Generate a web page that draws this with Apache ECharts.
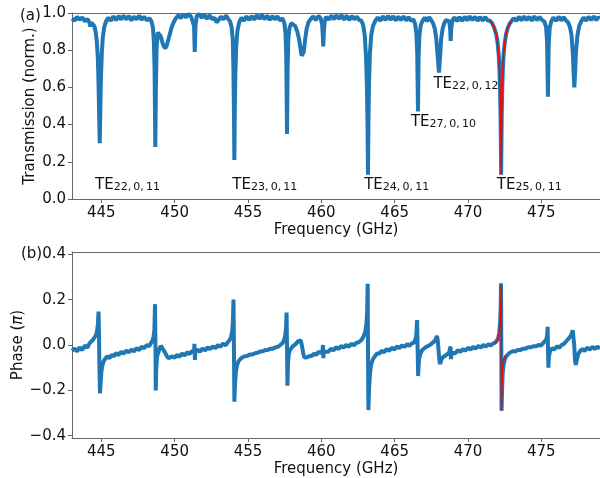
<!DOCTYPE html>
<html>
<head>
<meta charset="utf-8">
<script src="https://cdn.jsdelivr.net/npm/echarts@6/dist/echarts.min.js"></script>
<style>
html,body{margin:0;padding:0;background:#fff;}
#chart{width:600px;height:478px;}
</style>
</head>
<body>
<div id="chart"></div>
<script>
// ---- data ----
const freqTicks = [445, 450, 455, 460, 465, 470, 475];
const transTicks = [0, 0.2, 0.4, 0.6, 0.8, 1.0];
const phaseTicks = [-0.4, -0.2, 0, 0.2, 0.4];

// measured transmission [GHz, norm.]
const transmission = [[443.00,0.970],[443.18,0.958],[443.35,0.980],[443.52,0.964],[443.70,0.976],[443.88,0.955],[444.05,0.968],[444.18,0.950],[444.25,0.928],[444.32,0.948],[444.42,0.952],[444.52,0.930],[444.62,0.895],[444.70,0.840],[444.76,0.760],[444.81,0.620],[444.85,0.460],[444.89,0.300],[444.93,0.470],[444.97,0.640],[445.03,0.780],[445.10,0.870],[445.20,0.925],[445.32,0.955],[445.48,0.975],[445.65,0.958],[445.82,0.982],[446.00,0.962],[446.18,0.984],[446.35,0.965],[446.52,0.986],[446.70,0.966],[446.88,0.984],[447.05,0.960],[447.22,0.980],[447.40,0.966],[447.58,0.986],[447.75,0.964],[447.92,0.980],[448.10,0.960],[448.28,0.972],[448.42,0.955],[448.52,0.920],[448.58,0.850],[448.63,0.700],[448.68,0.280],[448.72,0.600],[448.77,0.820],[448.85,0.895],[448.95,0.905],[449.05,0.875],[449.15,0.845],[449.25,0.822],[449.36,0.810],[449.46,0.825],[449.56,0.855],[449.68,0.890],[449.80,0.925],[449.93,0.950],[450.08,0.972],[450.25,0.988],[450.42,0.972],[450.60,0.994],[450.78,0.976],[450.95,0.995],[451.12,0.980],[451.25,0.975],[451.32,0.930],[451.37,0.790],[451.42,0.930],[451.50,0.982],[451.68,0.994],[451.85,0.974],[452.02,0.990],[452.20,0.968],[452.38,0.988],[452.55,0.966],[452.72,0.975],[452.85,0.950],[452.92,0.945],[453.00,0.962],[453.15,0.980],[453.32,0.966],[453.50,0.986],[453.65,0.968],[453.78,0.955],[453.88,0.925],[453.96,0.860],[454.01,0.680],[454.04,0.480],[454.07,0.210],[454.10,0.480],[454.14,0.680],[454.20,0.820],[454.28,0.905],[454.40,0.950],[454.55,0.975],[454.72,0.958],[454.90,0.982],[455.08,0.962],[455.25,0.984],[455.42,0.964],[455.60,0.988],[455.78,0.968],[455.95,0.990],[456.12,0.966],[456.30,0.986],[456.48,0.962],[456.65,0.984],[456.82,0.966],[457.00,0.982],[457.18,0.960],[457.35,0.972],[457.48,0.945],[457.56,0.890],[457.61,0.760],[457.66,0.350],[457.70,0.700],[457.75,0.860],[457.83,0.920],[457.95,0.945],[458.08,0.945],[458.22,0.930],[458.36,0.900],[458.48,0.860],[458.58,0.810],[458.66,0.770],[458.72,0.760],[458.80,0.790],[458.90,0.860],[459.00,0.915],[459.12,0.950],[459.28,0.968],[459.45,0.982],[459.62,0.962],[459.80,0.984],[459.95,0.972],[460.05,0.940],[460.10,0.880],[460.13,0.820],[460.16,0.880],[460.22,0.950],[460.32,0.980],[460.50,0.964],[460.68,0.986],[460.85,0.966],[461.02,0.988],[461.20,0.968],[461.38,0.988],[461.55,0.964],[461.72,0.986],[461.90,0.962],[462.08,0.984],[462.25,0.966],[462.42,0.980],[462.58,0.962],[462.72,0.960],[462.85,0.935],[462.96,0.880],[463.05,0.760],[463.11,0.600],[463.15,0.400],[463.18,0.130],[463.21,0.400],[463.25,0.620],[463.31,0.780],[463.40,0.880],[463.52,0.930],[463.68,0.958],[463.85,0.976],[464.02,0.958],[464.20,0.982],[464.38,0.962],[464.55,0.984],[464.72,0.964],[464.90,0.982],[465.08,0.960],[465.25,0.980],[465.42,0.962],[465.60,0.982],[465.78,0.960],[465.95,0.978],[466.12,0.958],[466.28,0.965],[466.40,0.940],[466.48,0.890],[466.54,0.780],[466.59,0.470],[466.63,0.760],[466.69,0.880],[466.78,0.935],[466.90,0.958],[467.05,0.975],[467.20,0.956],[467.35,0.978],[467.50,0.960],[467.62,0.945],[467.74,0.915],[467.84,0.860],[467.93,0.770],[468.02,0.680],[468.09,0.760],[468.17,0.860],[468.27,0.915],[468.38,0.945],[468.50,0.962],[468.62,0.968],[468.72,0.955],[468.78,0.920],[468.82,0.850],[468.86,0.920],[468.94,0.962],[469.08,0.976],[469.25,0.956],[469.42,0.978],[469.60,0.958],[469.78,0.980],[469.95,0.960],[470.12,0.982],[470.30,0.962],[470.48,0.980],[470.65,0.958],[470.82,0.978],[471.00,0.960],[471.18,0.978],[471.35,0.960],[471.52,0.958],[471.65,0.944],[471.78,0.922],[471.92,0.888],[472.02,0.838],[472.10,0.768],[472.15,0.690],[472.19,0.580],[472.22,0.440],[472.24,0.300],[472.26,0.130],[472.28,0.300],[472.30,0.440],[472.33,0.580],[472.37,0.690],[472.42,0.768],[472.50,0.838],[472.60,0.888],[472.72,0.922],[472.85,0.944],[472.98,0.958],[473.12,0.972],[473.30,0.958],[473.48,0.980],[473.65,0.960],[473.82,0.982],[474.00,0.962],[474.18,0.980],[474.35,0.958],[474.52,0.982],[474.70,0.962],[474.88,0.978],[475.05,0.962],[475.20,0.955],[475.32,0.925],[475.39,0.850],[475.45,0.550],[475.50,0.830],[475.57,0.920],[475.68,0.955],[475.82,0.976],[476.00,0.958],[476.18,0.980],[476.35,0.960],[476.52,0.978],[476.68,0.960],[476.82,0.950],[476.95,0.925],[477.06,0.880],[477.15,0.780],[477.21,0.660],[477.25,0.600],[477.29,0.660],[477.36,0.790],[477.46,0.880],[477.58,0.930],[477.72,0.955],[477.88,0.976],[478.05,0.958],[478.22,0.980],[478.40,0.962],[478.58,0.982],[478.75,0.962],[478.90,0.978],[479.00,0.970]];

// fit of the TE25,0,11 resonance (transmission)
const transFit = [[471.45,0.958],[471.52,0.952],[471.65,0.944],[471.78,0.922],[471.92,0.888],[472.02,0.838],[472.10,0.768],[472.15,0.690],[472.19,0.580],[472.22,0.440],[472.24,0.300],[472.26,0.130],[472.28,0.300],[472.30,0.440],[472.33,0.580],[472.37,0.690],[472.42,0.768],[472.50,0.838],[472.60,0.888],[472.72,0.922],[472.85,0.944],[472.95,0.952],[473.02,0.958]];

// measured phase [GHz, pi]
const phase = [[443.00,-0.025],[443.18,-0.016],[443.35,-0.028],[443.52,-0.010],[443.70,-0.022],[443.88,-0.002],[444.05,-0.012],[444.20,0.008],[444.30,0.002],[444.42,0.022],[444.55,0.030],[444.65,0.045],[444.72,0.065],[444.77,0.095],[444.81,0.147],[444.84,0.050],[444.87,-0.100],[444.91,-0.213],[444.95,-0.170],[445.00,-0.120],[445.07,-0.090],[445.15,-0.072],[445.27,-0.060],[445.40,-0.050],[445.55,-0.058],[445.70,-0.043],[445.85,-0.050],[446.00,-0.036],[446.18,-0.044],[446.35,-0.030],[446.52,-0.038],[446.70,-0.025],[446.88,-0.032],[447.05,-0.020],[447.22,-0.028],[447.40,-0.014],[447.58,-0.022],[447.75,-0.008],[447.92,-0.014],[448.10,0.000],[448.25,-0.006],[448.38,0.008],[448.48,0.018],[448.56,0.035],[448.62,0.070],[448.66,0.180],[448.69,0.000],[448.71,-0.200],[448.74,-0.110],[448.80,-0.050],[448.88,-0.035],[448.97,-0.015],[449.06,-0.004],[449.12,-0.008],[449.22,-0.020],[449.34,-0.033],[449.46,-0.048],[449.58,-0.058],[449.70,-0.058],[449.85,-0.050],[450.00,-0.056],[450.15,-0.044],[450.32,-0.052],[450.50,-0.038],[450.68,-0.046],[450.85,-0.032],[451.02,-0.040],[451.18,-0.026],[451.32,-0.032],[451.35,0.005],[451.38,-0.066],[451.41,-0.030],[451.55,-0.020],[451.72,-0.030],[451.90,-0.016],[452.08,-0.024],[452.25,-0.010],[452.42,-0.018],[452.60,-0.006],[452.78,-0.014],[452.95,0.000],[453.12,-0.008],[453.30,0.006],[453.48,-0.002],[453.62,0.012],[453.75,0.022],[453.85,0.038],[453.92,0.060],[453.97,0.100],[454.01,0.200],[454.04,0.000],[454.07,-0.250],[454.11,-0.180],[454.17,-0.120],[454.25,-0.090],[454.35,-0.072],[454.48,-0.062],[454.62,-0.054],[454.78,-0.050],[454.95,-0.048],[455.12,-0.042],[455.30,-0.042],[455.48,-0.036],[455.65,-0.034],[455.82,-0.029],[456.00,-0.028],[456.18,-0.022],[456.35,-0.022],[456.52,-0.016],[456.70,-0.016],[456.88,-0.010],[457.05,-0.008],[457.20,0.000],[457.35,0.008],[457.45,0.020],[457.53,0.040],[457.59,0.070],[457.63,0.143],[457.66,0.000],[457.69,-0.180],[457.72,-0.090],[457.78,-0.040],[457.86,-0.022],[457.95,-0.014],[458.05,-0.006],[458.15,0.000],[458.25,0.004],[458.35,0.010],[458.44,0.018],[458.52,0.025],[458.60,0.020],[458.68,-0.005],[458.76,-0.035],[458.84,-0.055],[458.92,-0.060],[459.05,-0.054],[459.20,-0.048],[459.35,-0.048],[459.50,-0.038],[459.65,-0.044],[459.80,-0.030],[459.95,-0.036],[460.08,-0.026],[460.11,0.000],[460.14,-0.058],[460.17,-0.030],[460.30,-0.022],[460.48,-0.030],[460.65,-0.016],[460.82,-0.024],[461.00,-0.010],[461.18,-0.018],[461.35,-0.004],[461.52,-0.012],[461.70,0.000],[461.88,-0.008],[462.05,0.006],[462.22,-0.002],[462.40,0.010],[462.55,0.012],[462.70,0.020],[462.82,0.030],[462.92,0.045],[463.00,0.060],[463.07,0.090],[463.12,0.140],[463.16,0.270],[463.18,0.000],[463.21,-0.287],[463.25,-0.200],[463.31,-0.130],[463.40,-0.085],[463.52,-0.062],[463.65,-0.050],[463.80,-0.038],[463.95,-0.038],[464.10,-0.026],[464.28,-0.032],[464.45,-0.018],[464.62,-0.026],[464.80,-0.012],[464.98,-0.020],[465.15,-0.006],[465.32,-0.014],[465.50,-0.002],[465.68,-0.008],[465.85,0.004],[466.00,-0.004],[466.15,0.006],[466.30,0.010],[466.40,0.022],[466.47,0.040],[466.53,0.110],[466.56,0.000],[466.60,-0.137],[466.64,-0.080],[466.70,-0.050],[466.78,-0.035],[466.88,-0.022],[467.00,-0.015],[467.15,-0.008],[467.30,-0.004],[467.45,0.002],[467.58,0.008],[467.70,0.016],[467.80,0.026],[467.88,0.040],[467.94,0.020],[468.00,-0.030],[468.06,-0.075],[468.10,-0.084],[468.18,-0.065],[468.28,-0.055],[468.40,-0.048],[468.55,-0.042],[468.70,-0.036],[468.79,-0.030],[468.81,-0.007],[468.84,-0.062],[468.88,-0.034],[469.00,-0.028],[469.15,-0.036],[469.30,-0.023],[469.48,-0.030],[469.65,-0.018],[469.82,-0.025],[470.00,-0.012],[470.18,-0.020],[470.35,-0.008],[470.52,-0.016],[470.70,-0.004],[470.88,-0.011],[471.05,0.000],[471.22,-0.007],[471.40,0.004],[471.55,-0.002],[471.70,0.006],[471.85,0.010],[471.97,0.020],[472.06,0.030],[472.13,0.055],[472.19,0.100],[472.23,0.170],[472.25,0.272],[472.27,0.000],[472.29,-0.290],[472.32,-0.200],[472.36,-0.130],[472.42,-0.090],[472.50,-0.065],[472.60,-0.050],[472.75,-0.040],[472.90,-0.032],[473.05,-0.028],[473.22,-0.028],[473.40,-0.022],[473.58,-0.022],[473.75,-0.016],[473.92,-0.016],[474.10,-0.010],[474.28,-0.010],[474.45,-0.006],[474.62,-0.006],[474.80,0.000],[474.98,-0.002],[475.12,0.008],[475.25,0.012],[475.34,0.025],[475.40,0.045],[475.43,0.080],[475.45,0.000],[475.48,-0.100],[475.52,-0.050],[475.60,-0.025],[475.72,-0.015],[475.88,-0.020],[476.05,-0.006],[476.22,-0.012],[476.38,0.000],[476.52,0.004],[476.65,0.012],[476.78,0.022],[476.90,0.030],[477.00,0.040],[477.08,0.052],[477.14,0.065],[477.18,0.060],[477.24,0.000],[477.30,-0.070],[477.35,-0.088],[477.42,-0.065],[477.52,-0.040],[477.65,-0.026],[477.80,-0.018],[477.95,-0.026],[478.12,-0.012],[478.30,-0.020],[478.48,-0.008],[478.65,-0.018],[478.82,-0.008],[479.00,-0.014]];

// fit of the TE25,0,11 resonance (phase)
const phaseFit = [[471.77,0.005],[471.92,0.013],[472.03,0.025],[472.11,0.045],[472.17,0.080],[472.21,0.130],[472.24,0.200],[472.26,0.265],[472.28,-0.290],[472.30,-0.220],[472.33,-0.140],[472.37,-0.095],[472.43,-0.068],[472.50,-0.055],[472.57,-0.045]];

// mode labels: subscript text and anchor (GHz, transmission)
const modeNames = ['22,\u20090,\u200911', '23,\u20090,\u200911', '24,\u20090,\u200911', '25,\u20090,\u200911', '27,\u20090,\u200910', '22,\u20090,\u200912'];
const modeLabelFreq = [444.57, 453.93, 462.92, 471.96, 466.11, 467.64];
const modeLabelT = [0.074, 0.074, 0.074, 0.074, 0.414, 0.62];

// ---- chart ----
const FONT = 'DejaVu Sans';
const AX = '#666';
const TXT = '#111';
const FS = 15;
const fmtMinus = v => { const s = Math.abs(v).toFixed(1); return v < -1e-9 ? '\u2212' + s : s; };

function xBottom(grid) {
  return {
    type: 'value', gridIndex: grid, min: 443, max: 479, position: 'bottom',
    axisLine: {show: true, onZero: false, lineStyle: {color: AX, width: 1}},
    axisTick: {show: true, length: 4, lineStyle: {color: AX}, customValues: freqTicks},
    axisLabel: {fontFamily: FONT, fontSize: FS, color: TXT, margin: 7, customValues: freqTicks},
    splitLine: {show: false},
    name: 'Frequency (GHz)', nameLocation: 'middle', nameGap: 24, nameMoveOverlap: false,
    nameTextStyle: {fontFamily: FONT, fontSize: FS, color: TXT}
  };
}
function xTop(grid) {
  return {
    type: 'value', gridIndex: grid, min: 443, max: 479, position: 'top',
    axisLine: {show: true, onZero: false, lineStyle: {color: AX, width: 1}},
    axisTick: {show: false}, axisLabel: {show: false}, splitLine: {show: false}
  };
}

const markData = modeNames.map((n, i) => ({
  coord: [modeLabelFreq[i], modeLabelT[i]],
  value: n
}));

const option = {
  animation: false,
  backgroundColor: '#fff',
  grid: [
    {left: 72, top: 13, width: 528, height: 186},
    {left: 72, top: 252, width: 528, height: 186}
  ],
  xAxis: [xBottom(0), xTop(0), xBottom(1), xTop(1)],
  yAxis: [
    {
      type: 'value', gridIndex: 0, min: 0, max: 1, interval: 0.2,
      axisLine: {show: true, onZero: false, lineStyle: {color: AX}},
      axisTick: {show: true, length: 4, lineStyle: {color: AX}},
      axisLabel: {fontFamily: FONT, fontSize: FS, color: TXT, margin: 6, formatter: v => v.toFixed(1)},
      splitLine: {show: false},
      name: 'Transmission (norm.)', nameLocation: 'middle', nameGap: 34, nameMoveOverlap: false,
      nameTextStyle: {fontFamily: FONT, fontSize: FS, color: TXT}
    },
    {
      type: 'value', gridIndex: 1, min: -0.41, max: 0.41,
      axisLine: {show: true, onZero: false, lineStyle: {color: AX}},
      axisTick: {show: true, length: 4, lineStyle: {color: AX}, customValues: phaseTicks},
      axisLabel: {fontFamily: FONT, fontSize: FS, color: TXT, margin: 6, customValues: phaseTicks, formatter: fmtMinus},
      splitLine: {show: false},
      name: 'Phase ({i|\u03c0})', nameLocation: 'middle', nameGap: 46, nameMoveOverlap: false,
      nameTextStyle: {fontFamily: FONT, fontSize: FS, color: TXT,
        rich: {i: {fontFamily: FONT, fontSize: FS, fontStyle: 'italic', color: TXT}}}
    }
  ],
  graphic: [
    {type: 'text', left: 20, top: 9, style: {text: '(a)', fontFamily: FONT, fontSize: FS, fill: TXT}},
    {type: 'text', left: 21, top: 247, style: {text: '(b)', fontFamily: FONT, fontSize: FS, fill: TXT}}
  ],
  series: [
    {
      type: 'line', xAxisIndex: 0, yAxisIndex: 0, data: transmission,
      showSymbol: false, symbol: 'none', z: 2,
      lineStyle: {color: '#1f77b4', width: 4}, itemStyle: {color: '#1f77b4'},
      markPoint: {
        symbol: 'circle', symbolSize: 0, silent: true,
        itemStyle: {color: 'rgba(0,0,0,0)'},
        label: {
          show: true, position: 'right', distance: 0,
          formatter: p => '{t|TE}{s|' + p.value + '}',
          rich: {
            t: {fontFamily: FONT, fontSize: 15, lineHeight: 15, color: TXT, verticalAlign: 'top'},
            s: {fontFamily: FONT, fontSize: 11, lineHeight: 11, color: TXT, verticalAlign: 'bottom', padding: [7, 0, 0, 0]}
          }
        },
        data: markData
      }
    },
    {
      type: 'line', xAxisIndex: 0, yAxisIndex: 0, data: transFit,
      showSymbol: false, symbol: 'none', z: 3,
      lineStyle: {color: '#ff0000', width: 1.4}
    },
    {
      type: 'line', xAxisIndex: 2, yAxisIndex: 1, data: phase,
      showSymbol: false, symbol: 'none', z: 2,
      lineStyle: {color: '#1f77b4', width: 4}
    },
    {
      type: 'line', xAxisIndex: 2, yAxisIndex: 1, data: phaseFit,
      showSymbol: false, symbol: 'none', z: 3,
      lineStyle: {color: '#ff0000', width: 1.4}
    }
  ]
};

const chart = echarts.init(document.getElementById('chart'), null, {renderer: 'canvas'});
chart.setOption(option);
</script>
</body>
</html>
